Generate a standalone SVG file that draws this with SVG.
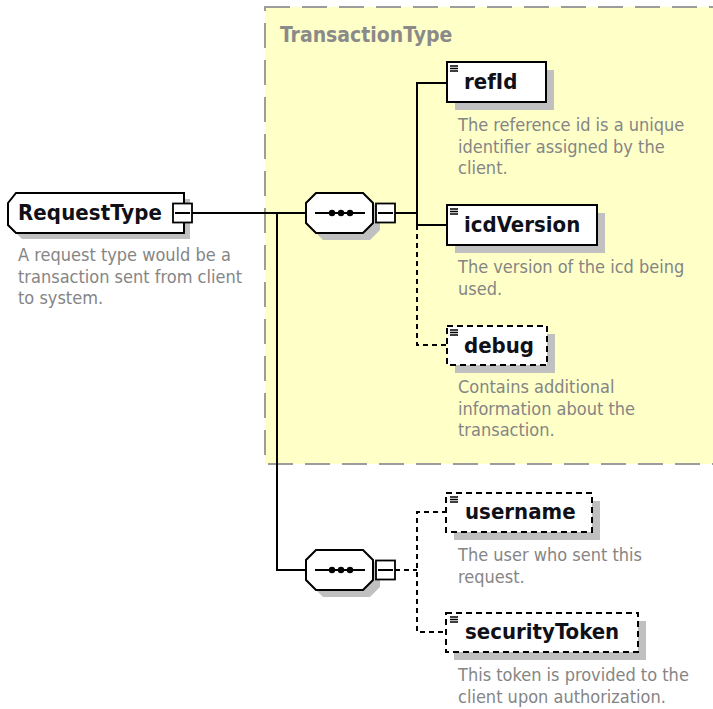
<svg xmlns="http://www.w3.org/2000/svg" width="713" height="709" viewBox="0 0 713 709">
<style>
.name{font-family:"DejaVu Sans Condensed","DejaVu Sans",sans-serif;font-stretch:condensed;font-weight:bold;font-size:22px;fill:#101018}
.desc{font-family:"DejaVu Sans Condensed","DejaVu Sans",sans-serif;font-stretch:condensed;font-size:18px;fill:#858585}
.title{font-family:"DejaVu Sans Condensed","DejaVu Sans",sans-serif;font-stretch:condensed;font-weight:bold;font-size:21px;fill:#8a8a8a}
.box{fill:#fff;stroke:#000;stroke-width:2}
.dbox{fill:#fff;stroke:#000;stroke-width:2;stroke-dasharray:6 4}
.shadow{fill:#c0c0c0}
.line{fill:none;stroke:#000;stroke-width:2}
.dline{fill:none;stroke:#000;stroke-width:2;stroke-dasharray:5 4}
.minus{fill:#fff;stroke:#000;stroke-width:1.8}
.icon{stroke:#000;stroke-width:1.6}
.bar{stroke:#000;stroke-width:2}
</style>

<g id="TransactionType">
  <rect x="265" y="7" width="470" height="457" fill="#ffffc8" stroke="#9c9c9c" stroke-width="2" stroke-dasharray="25 12"/>
  <text class="title" x="280" y="42">TransactionType</text>
</g>

<g id="connectors">
  <path class="line" d="M192,213 H306"/>
  <path class="line" d="M277,213 V570 H306"/>
  <path class="line" d="M395,213 H417"/>
  <path class="line" d="M447,83 H417 V225 H447"/>
  <path class="dline" d="M417,225 V345 H447"/>
  <path class="dline" d="M395,570 H417"/>
  <path class="dline" d="M447,512 H417 V632 H447"/>
</g>

<g id="RequestType">
  <polygon class="shadow" points="22,199 190,199 190,239 22,239 14,231 14,207"/>
  <polygon class="box" points="16,193 184,193 184,233 16,233 8,225 8,203"/>
  <text class="name" x="18" y="220" textLength="144">RequestType</text>
  <rect class="minus" x="173" y="203.5" width="19" height="19"/>
  <path class="bar" d="M175,213 H190"/>
  <text class="desc"><tspan x="18" y="261">A request type would be a</tspan><tspan x="18" y="282.5">transaction sent from client</tspan><tspan x="18" y="304">to system.</tspan></text>
</g>

<g id="sequence1">
  <polygon class="shadow" points="323,200 370,200 380,210 380,230 370,240 323,240 313,230 313,210"/>
  <polygon class="box" points="316,193 363,193 373,203 373,223 363,233 316,233 306,223 306,203"/>
  <path class="bar" d="M315,213 H365"/>
  <circle cx="332" cy="213" r="3.2"/>
  <circle cx="341" cy="213" r="3.2"/>
  <circle cx="350" cy="213" r="3.2"/>
  <rect class="minus" x="376" y="203.5" width="19" height="19"/>
  <path class="bar" d="M378,213 H393"/>
</g>

<g id="refId">
  <rect class="shadow" x="455" y="70" width="99" height="40"/>
  <rect class="box" x="447" y="62" width="99" height="40"/>
  <path class="icon" d="M450,66 H458 M450,68.5 H458 M450,71 H458"/>
  <text class="name" x="464" y="89">refId</text>
  <text class="desc"><tspan x="458" y="131">The reference id is a unique</tspan><tspan x="458" y="152.5">identifier assigned by the</tspan><tspan x="458" y="174">client.</tspan></text>
</g>

<g id="icdVersion">
  <rect class="shadow" x="455" y="213" width="150" height="40"/>
  <rect class="box" x="447" y="205" width="150" height="40"/>
  <path class="icon" d="M450,209 H458 M450,211.5 H458 M450,214 H458"/>
  <text class="name" x="464" y="232">icdVersion</text>
  <text class="desc"><tspan x="458" y="273">The version of the icd being</tspan><tspan x="458" y="294.5">used.</tspan></text>
</g>

<g id="debug">
  <rect class="shadow" x="455" y="334" width="100" height="39"/>
  <rect class="dbox" x="447" y="326" width="100" height="39"/>
  <path class="icon" d="M450,330 H458 M450,332.5 H458 M450,335 H458"/>
  <text class="name" x="464" y="353">debug</text>
  <text class="desc"><tspan x="458" y="393">Contains additional</tspan><tspan x="458" y="414.5">information about the</tspan><tspan x="458" y="436">transaction.</tspan></text>
</g>

<g id="sequence2">
  <polygon class="shadow" points="323,557 370,557 380,567 380,587 370,597 323,597 313,587 313,567"/>
  <polygon class="box" points="316,550 363,550 373,560 373,580 363,590 316,590 306,580 306,560"/>
  <path class="bar" d="M315,570 H365"/>
  <circle cx="332" cy="570" r="3.2"/>
  <circle cx="341" cy="570" r="3.2"/>
  <circle cx="350" cy="570" r="3.2"/>
  <rect class="minus" x="376" y="560.5" width="19" height="19"/>
  <path class="bar" d="M378,570 H393"/>
</g>

<g id="username">
  <rect class="shadow" x="454" y="501" width="146" height="39"/>
  <rect class="dbox" x="446" y="493" width="146" height="39"/>
  <path class="icon" d="M450,497 H458 M450,499.5 H458 M450,502 H458"/>
  <text class="name" x="465" y="519">username</text>
  <text class="desc"><tspan x="458" y="561">The user who sent this</tspan><tspan x="458" y="582.5">request.</tspan></text>
</g>

<g id="securityToken">
  <rect class="shadow" x="454" y="621" width="192" height="39"/>
  <rect class="dbox" x="446" y="613" width="192" height="39"/>
  <path class="icon" d="M450,617 H458 M450,619.5 H458 M450,622 H458"/>
  <text class="name" x="465" y="639">securityToken</text>
  <text class="desc"><tspan x="458" y="681">This token is provided to the</tspan><tspan x="458" y="702.5">client upon authorization.</tspan></text>
</g>
</svg>
